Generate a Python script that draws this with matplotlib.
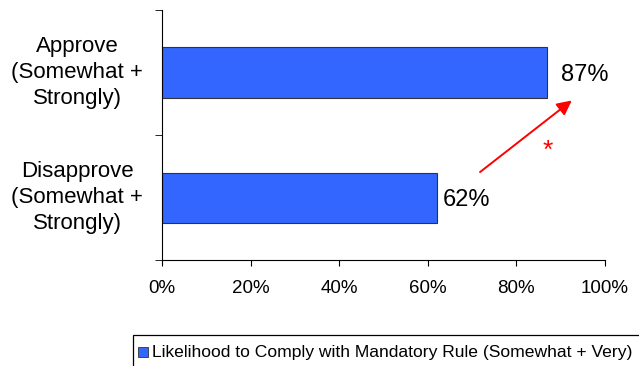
import numpy as np
import matplotlib.pyplot as plt
from matplotlib.patches import Rectangle

# data
categories = ["Disapprove\n(Somewhat +\nStrongly)", "Approve\n(Somewhat +\nStrongly)"]
values = [62, 87]
series_name = "Likelihood to Comply with Mandatory Rule (Somewhat + Very)"
xticks = [0, 20, 40, 60, 80, 100]

plt.rcParams['font.family'] = ['Liberation Sans', 'DejaVu Sans']

fig = plt.figure(figsize=(6.39, 3.66), dpi=100)
ax = fig.add_axes([162/639, 1 - 260/366, 443/639, 250/366])

ypos = np.arange(len(values))
ax.barh(ypos, values, height=0.4, color='#3366FF', edgecolor='#333333', linewidth=0.8)

# label gaps differ a little in the original
for y, v, gap in zip(ypos, values, [1.3, 3.1]):
    ax.text(v + gap, y - 0.02, f"{v}%", va='center', ha='left', fontsize=17)

# significance arrow
ax.annotate("", xy=(93, 0.79), xytext=(71.3, 0.19),
            arrowprops=dict(arrowstyle='-|>', color='red', lw=1.4, mutation_scale=22))
ax.text(87, 0.37, "*", color='red', fontsize=19, ha='center', va='center')

ax.set_xlim(0, 100)
ax.set_ylim(-0.5, 1.5)
ax.set_xticks(xticks)
ax.set_xticklabels([f"{t}%" for t in xticks], fontsize=13.5)
ax.set_yticks(ypos)
ax.set_yticklabels(categories, fontsize=16, ha='center', va='center',
                   multialignment='center', linespacing=1.32)
ax.tick_params(axis='y', length=0, pad=61)
ax.set_yticks([-0.5, 0.5, 1.5], minor=True)
ax.tick_params(axis='y', which='minor', length=5, direction='out')
ax.tick_params(axis='x', length=4.5, direction='out', pad=10)
for s in ['top', 'right']:
    ax.spines[s].set_visible(False)

# legend
fig.patches.append(Rectangle((133/639, -0.01), 1, 31/366 + 0.01, transform=fig.transFigure,
                             facecolor='white', edgecolor='black', linewidth=0.9))
fig.patches.append(Rectangle((138/639, 9/366), 10/639, 10/366, transform=fig.transFigure,
                             facecolor='#3366FF', edgecolor='#333333', linewidth=0.6))
fig.text(152/639, 13/366, series_name, fontsize=12.6, va='center', ha='left')

fig.savefig("out.png", dpi=100)
